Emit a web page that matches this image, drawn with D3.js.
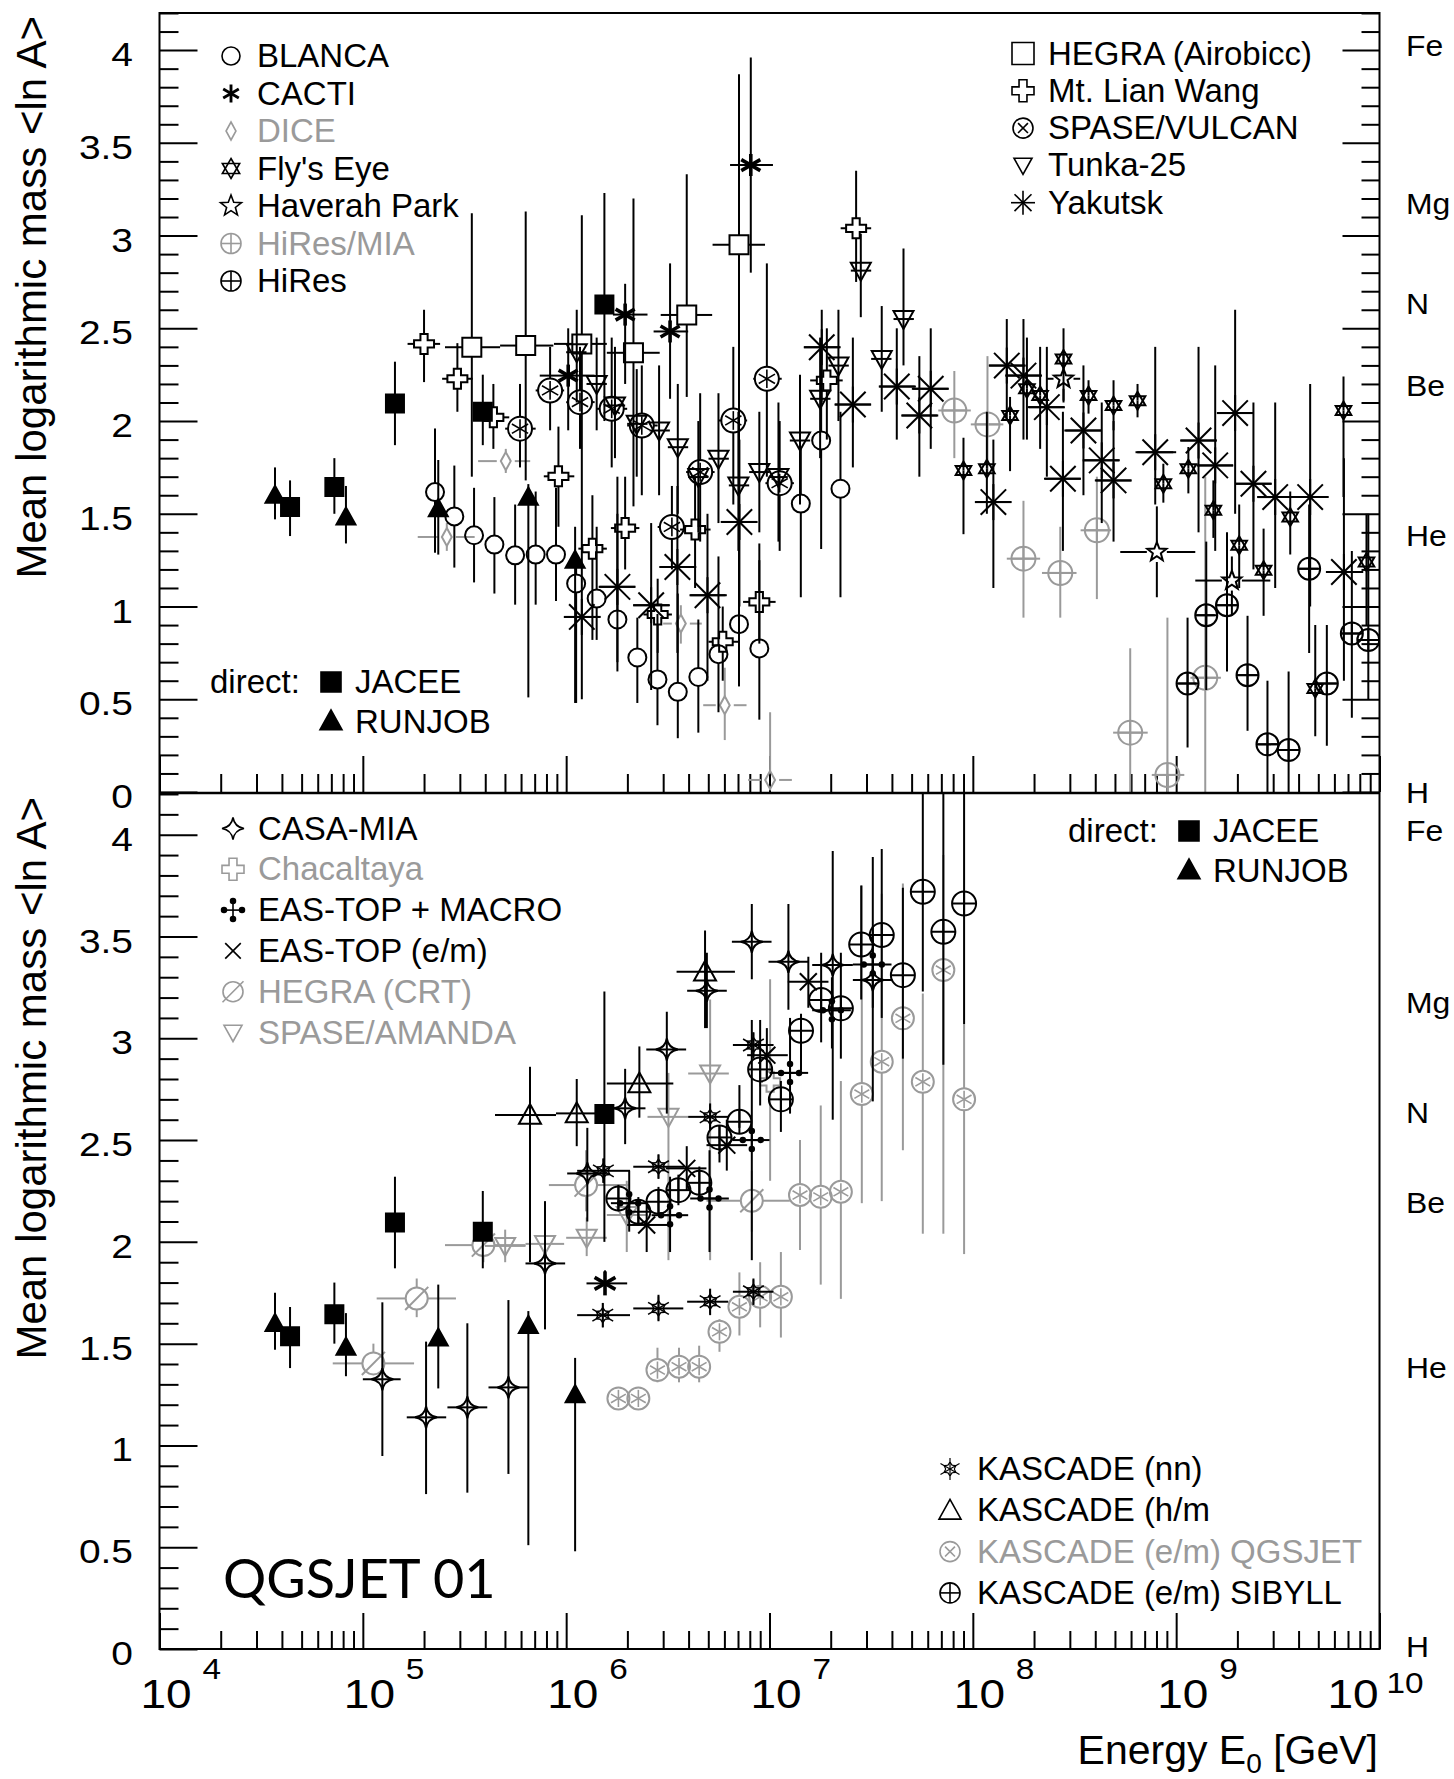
<!DOCTYPE html>
<html>
<head>
<meta charset="utf-8">
<script src="https://cdn.jsdelivr.net/npm/d3@7/dist/d3.min.js"></script>
<style>
  body { margin: 0; background: #fff; }
  svg text { font-family: "Liberation Sans", Arial, Helvetica, sans-serif; }
</style>
</head>
<body>
<div id="chart"></div>
<script>
// rows: [log10(E/GeV), <lnA>, lnA low, lnA high, log10 E low, log10 E high]

// ---- direct measurements (both panels)
const jacee = [
  [4.642, 1.536, 1.38, 1.68],
  [4.860, 1.644, 1.50, 1.80],
  [5.158, 2.095, 1.87, 2.32],
  [5.590, 2.050, 1.87, 2.25],
  [6.188, 2.628, 2.00, 3.23]
];
const runjob = [
  [4.568, 1.600, 1.47, 1.75],
  [4.917, 1.483, 1.34, 1.65],
  [5.371, 1.528, 1.28, 1.79],
  [5.814, 1.590, 0.51, 1.66],
  [6.044, 1.250, 0.48, 1.43]
];

// ---- top panel
const blanca = [
  [5.355, 1.617, 1.29, 1.96], [5.450, 1.486, 1.21, 1.76], [5.547, 1.384, 1.13, 1.64],
  [5.647, 1.334, 1.07, 1.59], [5.749, 1.276, 1.01, 1.55], [5.850, 1.280, 1.01, 1.62],
  [5.950, 1.280, 1.03, 1.64], [6.049, 1.124, 0.48, 1.25], [6.150, 1.043, 0.82, 1.43],
  [6.252, 0.930, 0.70, 1.70], [6.350, 0.725, 0.48, 0.94], [6.449, 0.607, 0.36, 0.96],
  [6.549, 0.540, 0.29, 1.07], [6.650, 0.620, 0.32, 0.93], [6.749, 0.743, 0.43, 1.27],
  [6.850, 0.905, 0.57, 1.24], [6.950, 0.774, 0.39, 1.34], [7.154, 1.555, 1.05, 1.86],
  [7.254, 1.895, 1.31, 2.30], [7.349, 1.635, 1.05, 2.05]
];
const cacti = [
  [6.010, 2.245, 1.95, 2.50, 5.87, 6.14],
  [6.290, 2.574, 2.20, 2.74, 6.23, 6.40],
  [6.511, 2.483, 2.12, 2.85, 6.43, 6.60],
  [6.908, 3.380, 2.80, 3.96, 6.806, 7.017]
];
const dice = [
  [5.413, 1.375, 1.30, 1.45, 5.27, 5.55],
  [5.703, 1.784, 1.72, 1.85, 5.567, 5.823],
  [6.564, 0.908, 0.80, 1.007, 6.477, 6.667],
  [6.780, 0.468, 0.28, 0.67, 6.674, 6.887],
  [7.003, 0.065, 0.01, 0.43, 6.895, 7.11]
];
const flysEye = [
  [7.954, 1.734, 1.39, 1.91], [8.069, 1.743, 1.50, 2.05], [8.183, 2.030, 1.73, 2.13],
  [8.266, 2.174, 1.90, 2.45], [8.331, 2.138, 1.85, 2.40], [8.446, 2.335, 2.11, 2.50],
  [8.569, 2.138, 2.04, 2.22], [8.692, 2.084, 1.95, 2.22], [8.810, 2.110, 2.02, 2.20],
  [8.937, 1.662, 1.56, 1.77], [9.060, 1.743, 1.61, 1.86], [9.183, 1.519, 1.37, 1.68],
  [9.310, 1.330, 1.10, 1.55], [9.430, 1.195, 0.95, 1.42], [9.561, 1.482, 1.28, 1.62],
  [9.684, 0.558, 0.30, 0.90], [9.823, 2.057, 1.59, 2.24], [9.936, 1.240, 0.90, 1.50]
];
const haverahPark = [
  [8.446, 2.228, 2.10, 2.36, 8.364, 8.528],
  [8.905, 1.294, 1.05, 1.54, 8.725, 9.094],
  [9.274, 1.140, 0.95, 1.27, 9.094, 9.463]
];
const hiresMia = [
  [7.909, 2.057, 1.80, 2.27, 7.83, 7.99],
  [8.072, 1.982, 1.72, 2.35, 7.99, 8.15],
  [8.249, 1.258, 0.94, 1.57, 8.167, 8.331],
  [8.430, 1.181, 0.94, 1.43, 8.34, 8.51],
  [8.610, 1.411, 1.04, 1.70, 8.53, 8.68],
  [8.774, 0.320, 0.00, 0.775, 8.69, 8.86],
  [8.957, 0.092, 0.00, 0.94, 8.88, 9.04],
  [9.143, 0.616, 0.00, 1.70, 9.07, 9.22]
];
const hires = [
  [9.056, 0.585, 0.24, 0.94, 9.01, 9.10], [9.148, 0.953, 0.55, 1.35, 9.10, 9.19],
  [9.250, 1.007, 0.65, 1.40, 9.20, 9.30], [9.351, 0.630, 0.33, 0.95, 9.30, 9.40],
  [9.449, 0.257, 0.00, 0.60, 9.40, 9.50], [9.553, 0.226, 0.00, 0.65, 9.50, 9.60],
  [9.654, 1.204, 0.75, 1.55, 9.60, 9.70], [9.741, 0.585, 0.25, 0.90, 9.69, 9.79],
  [9.864, 0.855, 0.40, 1.30, 9.81, 9.91], [9.945, 0.819, 0.50, 1.50, 9.90, 9.99]
];
const hegraAirobicc = [
  [5.536, 2.398, 1.70, 3.12, 5.404, 5.675],
  [5.801, 2.407, 1.68, 3.13, 5.675, 5.937],
  [6.077, 2.416, 1.30, 3.11, 5.94, 6.20],
  [6.331, 2.368, 1.54, 3.20, 6.20, 6.46],
  [6.593, 2.572, 2.13, 3.33, 6.465, 6.718],
  [6.850, 2.951, 0.57, 3.87, 6.72, 6.978]
];
const mtLianWang = [
  [5.301, 2.416, 2.21, 2.60, 5.22, 5.38], [5.465, 2.228, 2.05, 2.42, 5.39, 5.54],
  [5.642, 2.020, 1.85, 2.20, 5.56, 5.72], [5.962, 1.702, 1.43, 1.97, 5.89, 6.04],
  [6.129, 1.312, 0.82, 1.60, 6.06, 6.20], [6.290, 1.423, 1.20, 1.70, 6.22, 6.36],
  [6.450, 0.957, 0.75, 1.15, 6.38, 6.52], [6.634, 1.415, 1.10, 1.70, 6.56, 6.71],
  [6.770, 0.810, 0.60, 1.00, 6.70, 6.85], [6.950, 1.025, 0.80, 1.25, 6.87, 7.03],
  [7.282, 2.219, 1.90, 2.50, 7.20, 7.36], [7.426, 3.039, 2.75, 3.35, 7.35, 7.50]
];
const spaseVulcan = [
  [5.773, 1.959, 1.75, 2.20, 5.70, 5.85], [5.921, 2.165, 1.95, 2.40, 5.85, 5.99],
  [6.068, 2.102, 1.85, 2.40, 6.00, 6.14], [6.224, 2.066, 1.75, 2.45, 6.15, 6.30],
  [6.372, 1.976, 1.60, 2.30, 6.30, 6.45], [6.520, 1.429, 1.20, 1.65, 6.45, 6.59],
  [6.659, 1.725, 1.35, 2.15, 6.59, 6.73], [6.822, 2.003, 1.55, 2.40, 6.75, 6.89],
  [6.987, 2.228, 1.70, 2.85, 6.92, 7.06], [7.050, 1.665, 1.30, 2.00, 6.98, 7.12]
];
const tunka25 = [
  [6.052, 2.371, 2.10, 2.60, 6.00, 6.10], [6.150, 2.200, 1.95, 2.45, 6.10, 6.20],
  [6.240, 2.084, 1.80, 2.40, 6.19, 6.29], [6.347, 1.985, 1.70, 2.28, 6.30, 6.40],
  [6.457, 1.949, 1.60, 2.30, 6.41, 6.51], [6.549, 1.859, 1.50, 2.20, 6.50, 6.60],
  [6.650, 1.698, 1.40, 2.00, 6.60, 6.70], [6.749, 1.797, 1.45, 2.15, 6.70, 6.80],
  [6.847, 1.653, 1.30, 2.05, 6.80, 6.90], [6.950, 1.725, 1.40, 2.05, 6.90, 7.00],
  [7.044, 1.698, 1.35, 2.10, 7.00, 7.09], [7.150, 1.895, 1.55, 2.25, 7.10, 7.20],
  [7.249, 2.120, 1.80, 2.45, 7.20, 7.30], [7.339, 2.299, 2.00, 2.60, 7.29, 7.39],
  [7.449, 2.811, 2.56, 3.01, 7.40, 7.50], [7.552, 2.335, 2.05, 2.62, 7.50, 7.60],
  [7.659, 2.550, 2.30, 2.93, 7.61, 7.71]
];
const yakutsk = [
  [6.077, 0.944, 0.50, 1.30, 5.99, 6.17], [6.252, 1.106, 0.65, 1.50, 6.16, 6.34],
  [6.418, 1.007, 0.55, 1.45, 6.33, 6.51], [6.547, 1.213, 0.75, 1.65, 6.46, 6.64],
  [6.695, 1.061, 0.60, 1.50, 6.61, 6.79], [6.852, 1.456, 1.00, 1.90, 6.76, 6.94],
  [7.257, 2.398, 2.10, 2.60, 7.17, 7.35], [7.410, 2.089, 1.75, 2.45, 7.32, 7.50],
  [7.626, 2.186, 1.90, 2.50, 7.54, 7.72], [7.737, 2.030, 1.70, 2.35, 7.65, 7.83],
  [7.793, 2.174, 1.85, 2.50, 7.70, 7.88], [8.101, 1.563, 1.10, 1.90, 8.01, 8.19],
  [8.167, 2.299, 2.00, 2.55, 8.08, 8.26], [8.249, 2.245, 1.90, 2.55, 8.16, 8.34],
  [8.364, 2.075, 1.70, 2.40, 8.27, 8.45], [8.443, 1.689, 1.30, 2.05, 8.35, 8.53],
  [8.544, 1.949, 1.60, 2.30, 8.45, 8.63], [8.634, 1.788, 1.45, 2.10, 8.54, 8.72],
  [8.692, 1.680, 1.35, 2.00, 8.60, 8.78], [8.897, 1.832, 1.55, 2.40, 8.80, 9.00],
  [9.110, 1.895, 1.40, 2.40, 9.02, 9.20], [9.192, 1.761, 1.30, 2.30, 9.10, 9.28],
  [9.290, 2.043, 1.50, 2.60, 9.20, 9.38], [9.380, 1.662, 1.20, 2.10, 9.29, 9.47],
  [9.487, 1.590, 1.10, 2.10, 9.40, 9.58], [9.659, 1.590, 1.00, 2.20, 9.57, 9.75],
  [9.825, 1.186, 0.60, 1.80, 9.74, 9.92]
];

// ---- bottom panel
const casaMia = [
  [5.096, 1.325, 0.948, 1.703, 5.000, 5.186], [5.311, 1.138, 0.761, 1.51, 5.216, 5.410],
  [5.514, 1.187, 0.768, 1.60, 5.416, 5.612], [5.716, 1.285, 0.86, 1.714, 5.618, 5.814],
  [5.896, 1.894, 1.57, 2.20, 5.800, 5.995], [6.104, 2.336, 2.10, 2.56, 6.005, 6.200],
  [6.290, 2.656, 2.48, 2.85, 6.190, 6.390], [6.495, 2.945, 2.63, 3.13, 6.394, 6.590],
  [6.692, 3.233, 3.05, 3.42, 6.595, 6.790], [6.913, 3.474, 3.29, 3.66, 6.815, 7.010],
  [7.093, 3.376, 3.14, 3.66, 6.995, 7.190], [7.311, 3.360, 2.60, 3.92, 7.210, 7.410],
  [7.508, 3.286, 2.69, 3.89, 7.410, 7.605]
];
const chacaltaya = [
  [7.003, 2.786, 2.30, 3.29, 6.95, 7.06]
];
const easTopMacro = [
  [6.310, 2.190, 2.05, 2.35, 6.22, 6.40], [6.511, 2.131, 1.95, 2.32, 6.42, 6.60],
  [6.705, 2.213, 1.95, 2.45, 6.61, 6.80], [6.913, 2.500, 1.91, 3.09, 6.82, 7.00],
  [7.101, 2.830, 2.63, 3.10, 7.00, 7.19], [7.307, 3.138, 2.95, 3.30, 7.21, 7.40],
  [7.508, 3.363, 3.15, 3.55, 7.41, 7.60]
];
const easTopEm = [
  [6.396, 2.083, 1.95, 2.20, 6.30, 6.50], [6.593, 2.361, 2.25, 2.47, 6.49, 6.69],
  [6.790, 2.475, 2.35, 2.60, 6.69, 6.89], [6.987, 2.917, 2.80, 3.05, 6.89, 7.09],
  [7.191, 3.278, 3.15, 3.40, 7.09, 7.29]
];
const unlabeledAsterisk = [
  [6.191, 1.796, 1.74, 1.86, 6.10, 6.30]
];
const hegraCrt = [
  [5.052, 1.403, 1.356, 1.50, 4.852, 5.252], [5.265, 1.722, 1.63, 1.82, 5.068, 5.458],
  [5.593, 1.984, 1.90, 2.07, 5.404, 5.800], [6.098, 2.279, 2.15, 2.45, 5.915, 6.306],
  [6.913, 2.202, 2.05, 2.35, 6.69, 7.10]
];
const spaseAmanda = [
  [5.700, 1.980, 1.90, 2.06, 5.60, 5.80], [5.896, 1.990, 1.91, 2.07, 5.80, 5.99],
  [6.101, 2.020, 1.93, 2.12, 6.00, 6.20], [6.298, 2.132, 1.95, 2.30, 6.20, 6.40],
  [6.503, 2.614, 1.91, 2.83, 6.40, 6.60], [6.708, 2.827, 1.91, 3.19, 6.60, 6.80]
];
const kascadeNn = [
  [6.180, 1.640, 1.58, 1.70, 6.054, 6.314], [6.454, 1.673, 1.61, 1.74, 6.33, 6.576],
  [6.708, 1.706, 1.64, 1.77, 6.595, 6.797], [6.921, 1.755, 1.69, 1.82, 6.82, 7.02],
  [6.183, 2.349, 2.29, 2.41, 6.054, 6.314], [6.454, 2.369, 2.31, 2.43, 6.33, 6.58],
  [6.708, 2.614, 2.55, 2.68, 6.60, 6.80], [6.921, 2.967, 2.90, 3.03, 6.82, 7.02]
];
const kascadeHm = [
  [5.822, 2.623, 1.90, 2.86, 5.65, 5.95], [6.052, 2.631, 2.47, 2.80, 5.95, 6.20],
  [6.360, 2.778, 2.61, 2.96, 6.20, 6.527], [6.683, 3.327, 3.05, 3.53, 6.543, 6.83]
];
const kascadeQgsjet = [
  [6.257, 1.231, 1.19, 1.27], [6.355, 1.231, 1.19, 1.27], [6.449, 1.370, 1.31, 1.48],
  [6.555, 1.387, 1.31, 1.48], [6.654, 1.387, 1.31, 1.49], [6.754, 1.558, 1.46, 1.62],
  [6.852, 1.681, 1.54, 1.85], [6.954, 1.730, 1.58, 1.90], [7.056, 1.730, 1.53, 1.95],
  [7.150, 2.230, 1.96, 2.50], [7.252, 2.221, 1.79, 2.67], [7.351, 2.246, 1.72, 2.79],
  [7.454, 2.726, 2.19, 3.75], [7.552, 2.885, 2.20, 3.71], [7.656, 3.098, 2.45, 3.76],
  [7.754, 2.786, 2.04, 3.22], [7.855, 3.335, 2.04, 3.90], [7.957, 2.700, 1.94, 3.07]
];
const kascadeSibyll = [
  [6.257, 2.213, 2.15, 2.28], [6.355, 2.148, 2.08, 2.22], [6.454, 2.197, 2.13, 2.27],
  [6.552, 2.254, 2.18, 2.33], [6.655, 2.290, 2.21, 2.37], [6.754, 2.513, 2.39, 2.57],
  [6.852, 2.590, 2.56, 2.77], [6.954, 2.847, 2.67, 3.09], [7.056, 2.700, 2.54, 2.79],
  [7.155, 3.037, 2.84, 3.12], [7.254, 3.188, 2.98, 3.42], [7.351, 3.147, 2.90, 3.42],
  [7.451, 3.461, 3.19, 3.75], [7.552, 3.507, 3.10, 3.93], [7.656, 3.310, 2.90, 3.74],
  [7.754, 3.720, 3.23, 4.20], [7.855, 3.523, 2.87, 4.20], [7.957, 3.662, 3.07, 4.20]
];

// ---- axes / labels
const yTickValues = [0, 0.5, 1, 1.5, 2, 2.5, 3, 3.5, 4];
const yTickLabels = ["0", "0.5", "1", "1.5", "2", "2.5", "3", "3.5", "4"];
const xTickExponents = [4, 5, 6, 7, 8, 9, 10];
const elementNames = ["H", "He", "Be", "N", "Mg", "Fe"];
const elementLnA = [0, 1.386, 2.197, 2.639, 3.178, 4.025];

const BLACK = "#000", GREY = "#9a9a9a";
const W = 1454, H = 1779;

const x = d3.scaleLog().domain([1e4, 1e10]).range([159.5, 1379.5]);
const panels = [
  { y: d3.scaleLinear().domain([0, 4.2]).range([792, 13]), right: true },
  { y: d3.scaleLinear().domain([0, 4.2]).range([1649, 794]), right: false }
];

const svg = d3.select("#chart").append("svg")
  .attr("width", W).attr("height", H)
  .style("background", "#fff");

//Marker shapes
function drawMarker(g, type, r, color, sw) {
  const line = (x1, y1, x2, y2, w) => g.append("line")
    .attr("x1", x1).attr("y1", y1).attr("x2", x2).attr("y2", y2)
    .attr("stroke", color).attr("stroke-width", w || sw);
  const poly = (pts, fill) => g.append("path")
    .attr("d", "M" + pts.map(p => p.join(",")).join("L") + "Z")
    .attr("fill", fill ? color : "none").attr("stroke", color).attr("stroke-width", sw);
  const spokes = (angles, len, w) => angles.forEach(a => {
    const c = Math.cos(a * Math.PI / 180) * len, s = Math.sin(a * Math.PI / 180) * len;
    line(-c, -s, c, s, w);
  });
  const circle = rr => g.append("circle").attr("r", rr)
    .attr("fill", "none").attr("stroke", color).attr("stroke-width", sw);

  switch (type) {
    case "circle": circle(r); break;
    case "square": poly([[-r, -r], [r, -r], [r, r], [-r, r]], true); break;
    case "squareOpen": poly([[-r, -r], [r, -r], [r, r], [-r, r]], false); break;
    case "triUp": poly([[0, -r], [r, 0.8 * r], [-r, 0.8 * r]], true); break;
    case "triUpOpen": poly([[0, -r], [r, 0.8 * r], [-r, 0.8 * r]], false); break;
    case "triDown": poly([[-r, -0.8 * r], [r, -0.8 * r], [0, r]], false); break;
    case "diamond": poly([[0, -r], [0.55 * r, 0], [0, r], [-0.55 * r, 0]], false); break;
    case "crossOpen": {
      const a = 0.36 * r;
      poly([[-a, -r], [a, -r], [a, -a], [r, -a], [r, a], [a, a], [a, r], [-a, r],
            [-a, a], [-r, a], [-r, -a], [-a, -a]], false);
      break;
    }
    case "star5": {
      const pts = d3.range(10).map(i => {
        const rr = i % 2 ? 0.42 * r : r, a = -Math.PI / 2 + i * Math.PI / 5;
        return [rr * Math.cos(a), rr * Math.sin(a)];
      });
      poly(pts, false);
      break;
    }
    case "hexagram":
      poly([[0, -r], [0.866 * r, 0.5 * r], [-0.866 * r, 0.5 * r]], false);
      poly([[0, r], [0.866 * r, -0.5 * r], [-0.866 * r, -0.5 * r]], false);
      break;
    case "astBold": spokes([90, 30, 150], r, sw * 1.8); break;
    case "ast8": spokes([0, 45, 90, 135], r); break;
    case "circleAst": circle(r); spokes([90, 30, 150], r * 0.78, sw * 0.8); break;
    case "circlePlus": circle(r); spokes([0, 90], r); break;
    case "circleX": circle(r); spokes([45, 135], r * 0.7); break;
    case "circleSlash": circle(r); line(-r * 1.05, r * 1.05, r * 1.05, -r * 1.05); break;
    case "star4": {
      const c = 0.14 * r;
      g.append("path")
        .attr("d", `M0,${-r}Q${c},${-c} ${r},0Q${c},${c} 0,${r}Q${-c},${c} ${-r},0Q${-c},${-c} 0,${-r}Z`)
        .attr("fill", "none").attr("stroke", color).attr("stroke-width", sw);
      break;
    }
    case "snow": {
      spokes([90, 30, 150], r, sw * 0.75);
      [90, 30, 150, 270, 210, 330].forEach(a => {
        const rad = a * Math.PI / 180, b = 0.62 * r;
        const px = Math.cos(rad) * b, py = Math.sin(rad) * b;
        [35, -35].forEach(o => {
          const r2 = (a + 180 + o) * Math.PI / 180;
          line(px, py, px - Math.cos(r2) * -0.35 * r, py - Math.sin(r2) * -0.35 * r, sw * 0.75);
        });
      });
      break;
    }
    case "dotCross":
      spokes([0, 90], r);
      [[r, 0], [-r, 0], [0, r], [0, -r]].forEach(p =>
        g.append("circle").attr("cx", p[0]).attr("cy", p[1]).attr("r", 0.36 * r).attr("fill", color));
      break;
    case "x": spokes([45, 135], r); break;
  }
}

function seg(g, x1, y1, x2, y2) {
  g.append("line").attr("x1", x1).attr("y1", y1).attr("x2", x2).attr("y2", y2);
}

function drawSeries(g, y, s) {
  const col = s.color || BLACK;
  const eb = g.append("g").attr("stroke", col).attr("stroke-width", 2).attr("fill", "none");
  s.data.forEach(d => {
    const px = x(10 ** d[0]), py = y(d[1]), gap = s.gap || 0;
    if (d[2] != null) {
      const yl = y(d[2]), yh = y(d[3]);
      if (yh < py - gap) seg(eb, px, yh, px, py - gap);
      if (yl > py + gap) seg(eb, px, py + gap, px, yl);
    }
    if (d[4] != null) {
      const xl = x(10 ** d[4]), xh = x(10 ** d[5]);
      if (xl < px - gap) seg(eb, xl, py, px - gap, py);
      if (xh > px + gap) seg(eb, px + gap, py, xh, py);
    }
  });
  s.data.forEach(d => {
    const m = g.append("g").attr("transform", `translate(${x(10 ** d[0])},${y(d[1])})`);
    drawMarker(m, s.type, s.r, col, s.sw || 2);
  });
}

function legend(g, items, symX, textX, y0, dy) {
  items.forEach((it, i) => {
    const by = y0 + i * dy;
    const m = g.append("g").attr("transform", `translate(${symX},${by - 11})`);
    drawMarker(m, it.type, it.r || 8, it.color || BLACK, 1.6);
    g.append("text").attr("x", textX).attr("y", by)
      .attr("font-size", 33).attr("fill", it.color || BLACK).text(it.label);
  });
}

function scaledText(g, x0, y0, txt, size, anchor, sx) {
  return g.append("text")
    .attr("transform", `translate(${x0},${y0}) scale(${sx},1)`)
    .attr("font-size", size).attr("text-anchor", anchor).text(txt);
}

//Series definitions
const topSeries = [
  { data: dice, type: "diamond", r: 9, color: GREY, gap: 9 },
  { data: hiresMia, type: "circlePlus", r: 12, color: GREY },
  { data: blanca, type: "circle", r: 9, gap: 9 },
  { data: cacti, type: "astBold", r: 11 },
  { data: flysEye, type: "hexagram", r: 9 },
  { data: haverahPark, type: "star5", r: 10, gap: 10 },
  { data: hires, type: "circlePlus", r: 11 },
  { data: hegraAirobicc, type: "squareOpen", r: 9.5, gap: 9.5 },
  { data: mtLianWang, type: "crossOpen", r: 10, gap: 10 },
  { data: spaseVulcan, type: "circleAst", r: 12, gap: 12 },
  { data: tunka25, type: "triDown", r: 10 },
  { data: yakutsk, type: "ast8", r: 18 },
  { data: jacee, type: "square", r: 9 },
  { data: runjob, type: "triUp", r: 9.5 }
];
const bottomSeries = [
  { data: chacaltaya, type: "crossOpen", r: 10, color: GREY, gap: 10 },
  { data: hegraCrt, type: "circleSlash", r: 11, color: GREY, gap: 11 },
  { data: spaseAmanda, type: "triDown", r: 10, color: GREY },
  { data: kascadeQgsjet, type: "circleAst", r: 11, color: GREY, gap: 11 },
  { data: casaMia, type: "star4", r: 11 },
  { data: easTopMacro, type: "dotCross", r: 9 },
  { data: easTopEm, type: "x", r: 12 },
  { data: unlabeledAsterisk, type: "astBold", r: 12 },
  { data: kascadeNn, type: "snow", r: 12 },
  { data: kascadeHm, type: "triUpOpen", r: 11 },
  { data: kascadeSibyll, type: "circlePlus", r: 12 },
  { data: jacee, type: "square", r: 9 },
  { data: runjob, type: "triUp", r: 9.5 }
];

//Ticks
const xMinor = [];
for (let e = 4; e < 10; e++) for (let m = 2; m <= 9; m++) xMinor.push(m * 10 ** e);
const yMinor = d3.range(0, 43).map(i => i / 10).filter(v => Math.round(v * 10) % 5 !== 0);

function styleAxis(sel) {
  sel.select(".domain").remove();
  sel.selectAll(".tick line").attr("stroke", BLACK).attr("stroke-width", 2);
}

panels.forEach((p, pi) => {
  const g = svg.append("g");
  const y = p.y;
  const [yBot, yTopPx] = y.range();

  // x ticks (pointing into the panel)
  g.append("g").attr("transform", `translate(0,${yBot})`)
    .call(d3.axisBottom(x).tickValues(xMinor).tickSize(-18).tickFormat(""))
    .call(styleAxis);
  g.append("g").attr("transform", `translate(0,${yBot})`)
    .call(d3.axisBottom(x).tickValues(xTickExponents.map(e => 10 ** e)).tickSize(-36).tickFormat(""))
    .call(styleAxis);

  // left y ticks
  g.append("g").attr("transform", `translate(${x.range()[0]},0)`)
    .call(d3.axisLeft(y).tickValues(yMinor).tickSize(-19).tickFormat(""))
    .call(styleAxis);
  g.append("g").attr("transform", `translate(${x.range()[0]},0)`)
    .call(d3.axisLeft(y).tickValues(yTickValues).tickSize(-38).tickFormat(""))
    .call(styleAxis);
  if (p.right) {
    g.append("g").attr("transform", `translate(${x.range()[1]},0)`)
      .call(d3.axisRight(y).tickValues(yMinor).tickSize(-18).tickFormat(""))
      .call(styleAxis);
    g.append("g").attr("transform", `translate(${x.range()[1]},0)`)
      .call(d3.axisRight(y).tickValues(yTickValues).tickSize(-37).tickFormat(""))
      .call(styleAxis);
  }

  // y tick labels
  yTickValues.forEach((v, i) => scaledText(g, 133, y(v) + 16, yTickLabels[i], 33, "end", 1.18));

  // element labels
  elementNames.forEach((nm, i) => {
    const off = (pi === 1 && i === 0) ? 8 : 11;
    scaledText(g, 1406, y(elementLnA[i]) + off, nm, 29, "start", 1.1);
  });

  // y title
  g.append("text")
    .attr("transform", `translate(46,${yTopPx + 3}) rotate(-90)`)
    .attr("text-anchor", "end").attr("font-size", 42)
    .text("Mean logarithmic mass <ln A>");

  // data
  const clipId = "clip" + pi;
  svg.append("clipPath").attr("id", clipId).append("rect")
    .attr("x", x.range()[0]).attr("y", yTopPx)
    .attr("width", x.range()[1] - x.range()[0]).attr("height", yBot - yTopPx);
  const dg = g.append("g").attr("clip-path", `url(#${clipId})`);
  (pi === 0 ? topSeries : bottomSeries).forEach(s => drawSeries(dg, y, s));
});

//Legends - top panel
const lg = svg.append("g");
legend(lg, [
  { label: "BLANCA", type: "circle", r: 9 },
  { label: "CACTI", type: "astBold", r: 9 },
  { label: "DICE", type: "diamond", r: 9, color: GREY },
  { label: "Fly's Eye", type: "hexagram", r: 10 },
  { label: "Haverah Park", type: "star5", r: 11 },
  { label: "HiRes/MIA", type: "circlePlus", r: 10, color: GREY },
  { label: "HiRes", type: "circlePlus", r: 10 }
], 231, 257, 67, 37.5);
legend(lg, [
  { label: "HEGRA (Airobicc)", type: "squareOpen", r: 11 },
  { label: "Mt. Lian Wang", type: "crossOpen", r: 11 },
  { label: "SPASE/VULCAN", type: "circleX", r: 10 },
  { label: "Tunka-25", type: "triDown", r: 9 },
  { label: "Yakutsk", type: "ast8", r: 12 }
], 1023, 1048, 64.5, 37.3);

function directLegend(g, dx, by) {
  g.append("text").attr("x", dx).attr("y", by).attr("font-size", 33).text("direct:");
  const s = g.append("g").attr("transform", `translate(${dx + 121},${by - 11})`);
  drawMarker(s, "square", 10, BLACK, 1.6);
  g.append("text").attr("x", dx + 145).attr("y", by).attr("font-size", 33).text("JACEE");
  const t = g.append("g").attr("transform", `translate(${dx + 121},${by + 40 - 12})`);
  drawMarker(t, "triUp", 11, BLACK, 1.6);
  g.append("text").attr("x", dx + 145).attr("y", by + 40).attr("font-size", 33).text("RUNJOB");
}
directLegend(lg, 210, 693);

//Legends - bottom panel
legend(lg, [
  { label: "CASA-MIA", type: "star4", r: 11 },
  { label: "Chacaltaya", type: "crossOpen", r: 11, color: GREY },
  { label: "EAS-TOP + MACRO", type: "dotCross", r: 9 },
  { label: "EAS-TOP (e/m)", type: "x", r: 11 },
  { label: "HEGRA (CRT)", type: "circleSlash", r: 10, color: GREY },
  { label: "SPASE/AMANDA", type: "triDown", r: 9, color: GREY }
], 233, 258, 839.5, 40.8);
directLegend(lg, 1068, 842);
legend(lg, [
  { label: "KASCADE (nn)", type: "snow", r: 11 },
  { label: "KASCADE (h/m", type: "triUpOpen", r: 11 },
  { label: "KASCADE (e/m) QGSJET", type: "circleX", r: 10, color: GREY },
  { label: "KASCADE (e/m) SIBYLL", type: "circlePlus", r: 10 }
], 950, 977, 1480, 41.3);

svg.append("text").attr("x", 223).attr("y", 1598)
  .attr("font-size", 54).style("font-family", "Lato, 'Open Sans', sans-serif")
  .text("QGSJET 01");

//X tick labels
xTickExponents.forEach((e, i) => {
  const tx = x(10 ** e);
  const last = i === xTickExponents.length - 1;
  const bx = last ? tx - 52 : tx - 19;
  scaledText(svg, bx, 1708, "10", 40, "start", 1.15);
  scaledText(svg, last ? tx + 7 : tx + 43, last ? 1693 : 1679, String(e), 29, "start", 1.15);
});

//X title
const xt = svg.append("text").attr("x", 1378).attr("y", 1764)
  .attr("text-anchor", "end").attr("font-size", 41);
xt.append("tspan").text("Energy E");
xt.append("tspan").attr("font-size", 28).attr("dy", 9).text("0");
xt.append("tspan").attr("dy", -9).text(" [GeV]");

//Frame
const fr = svg.append("g").attr("fill", "none").attr("stroke", BLACK).attr("stroke-width", 2);
fr.append("rect").attr("x", 159.5).attr("y", 13).attr("width", 1220).attr("height", 1636);
fr.append("line").attr("x1", 159.5).attr("x2", 1379.5).attr("y1", 793).attr("y2", 793).attr("stroke-width", 2.5);
</script>
</body>
</html>
